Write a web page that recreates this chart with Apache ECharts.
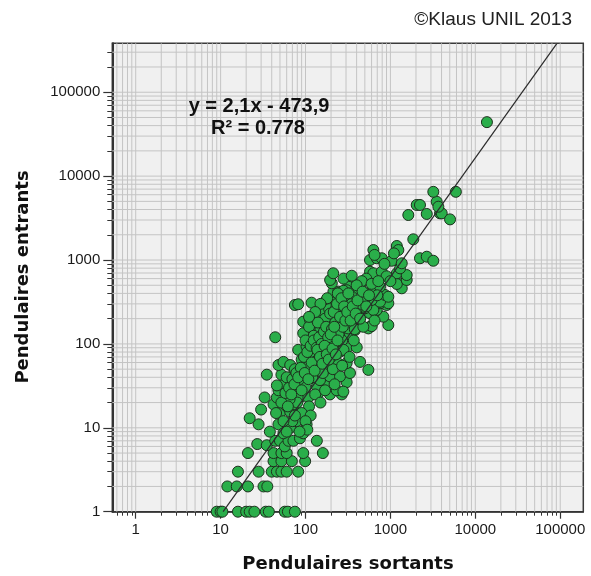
<!DOCTYPE html>
<html>
<head>
<meta charset="utf-8">
<script src="https://cdn.jsdelivr.net/npm/echarts@6/dist/echarts.min.js"></script>
<style>
html,body{margin:0;padding:0;background:#ffffff;}
#chart{width:591px;height:576px;}
</style>
</head>
<body>
<div id="chart"></div>
<script>
// Pendulaires sortants (x) for each commune
const sortants = [
  9,10,10.5,16,20,22,25,34,37,57,62,75,
  12,15.5,21,32,35.5,
  16,28,40,46,52,60,82,
  42,52,69,99,
  21,42,52,60,94,160,
  27,35,44,50,57,63,72,86,136,
  38,28,48,55,66,79,94,103,
  22,30,42,50,60,66,75,
  33,46,60,86,108,142,194,267,48,57,69,46,69,86,136,186,233,305,279,86,
  35,52,72,113,148,194,255,334,48,55,66,94,108,136,178,233,305,439,550,
  82,103,148,194,233,305,401,
  44,94,124,136,178,212,255,292,334,383,
  162,194,255,305,366,575,550,602,945,233,292,319,
  94,113,142,178,204,233,292,334,401,419,279,212,826,
  575,334,659,690,439,502,480,75,82,118,162,170,904,754,945,690,630,
  754,863,945,222,575,194,279,213,243,526,292,
  334,419,204,195,212,319,630,754,1240,1360,1190,1555,
  575,630,790,1190,1555,1300,
  575,690,790,1035,1360,2230,2680,3200,630,1190,1240,1860,
  1625,2680,3840,4020,5040,2040,2230,3510,3670,3200,5900,13700,
  178,243,305,439,602,
  120,160,200,250,130,170,220,270,110,150,
  190,240,280,350,160,190,260,300,120,160,
  210,270,100,130,170,220,150,110,90,115,
  80,100,105,65,70,85,115,140,180,230,
  380,400,450,500,350,420,260,300,200,170,
  230,250,140,125,100,90,75,60,55,60,
  75,110,160,200,280,330,370,380,480,650,
  700,520,460,400,280,240,180,150,130,110,
  280,350,900,1000,850,650,1100,
  45,52,58,64,70,78,88,96,105,115,
  125,135,145,155,165,175,185,195,205,215,
  225,235,245,255,265,275,285,295,310,320,
  340,360,390,410,440,470,520,560,600,720,
  62,68,74,82,90,98,108,118,128,138,
  148,158,168,178,188,198,208,218,228,238
];
// Pendulaires entrants (y), same order
const entrants = [
  1,1,1,1,1,1,1,1,1,1,1,1,
  2,2,2,2,2,
  3,3,3,3,3,3,3,
  4,4,4,4,
  5,5,5,5,5,5,
  6.4,6.2,7,7,6,7,7,7.5,7,
  9,11,11,8.6,10,12,8.6,11,
  13,16.5,19,15,18,15.6,19,
  23,23,23,23,23,26,25,25,28,34,32,32,28,31,31,32,28,35,27,35,
  43,43,43,41,37,41,41,45,56,61,56,61,49,56,53,61,59,61,49,
  85,93,93,97,85,89,91,
  120,134,146,117,122,134,140,122,128,146,
  160,168,168,160,176,160,153,163,168,160,176,153,
  184,193,215,202,221,211,221,211,202,202,221,211,211,
  232,232,242,254,254,266,277,291,297,310,305,318,291,305,305,305,254,
  318,383,365,334,334,349,349,419,419,401,358,
  490,504,528,578,695,481,481,481,528,460,518,578,
  725,695,725,695,662,796,
  1000,1050,1050,980,914,1050,1095,980,1315,1470,1315,1765,
  3440,3540,3600,3600,3050,4530,4530,4950,4320,6500,6500,44000,
  318,401,437,481,334,
  70,75,70,80,100,110,105,110,160,150,
  140,250,270,300,250,260,300,260,40,45,
  50,55,30,25,28,33,20,18,15,14,
  20,12,9.5,22,12,9,80,65,90,120,
  210,260,300,350,400,460,230,200,180,200,
  270,190,180,125,110,65,50,40,12,9,
  14,55,130,100,85,70,110,150,160,190,
  380,600,560,500,430,400,350,300,240,210,
  600,650,640,560,900,1150,1200,
  15,20,26,30,38,45,52,70,80,95,
  110,90,120,100,140,160,120,230,150,240,
  180,300,130,210,350,160,280,190,240,400,
  190,280,230,330,200,420,280,380,520,560,
  18,25,33,40,28,45,38,60,48,85,
  70,58,95,75,65,130,88,160,75,110
];
// Regression line drawn in the reference (two end points)
const fitX = [10.7, 92000];
const fitY = [1, 384000];
// Axis tick labels
const xTickLabels = [1, 10, 100, 1000, 10000, 100000];
const yTickLabels = [1, 10, 100, 1000, 10000, 100000];
const minorMultipliers = [2, 3, 4, 5, 6, 7, 8, 9];
const X_MIN = 0.53, X_MAX = 187000, Y_MIN = 1, Y_MAX = 383000;

const equationText = 'y = 2,1x - 473,9';
const r2Text = 'R² = 0.778';
const creditText = '©Klaus UNIL 2013';
const xTitle = 'Pendulaires sortants';
const yTitle = 'Pendulaires entrants';

function gridValues(min, max) {
  const out = [];
  for (let e = -1; e <= 6; e++) {
    const dec = Math.pow(10, e);
    [1].concat(minorMultipliers).forEach(m => {
      const v = +(m * dec).toPrecision(6);
      if (v >= min * 0.9999 && v <= max * 1.0001) out.push(v);
    });
  }
  return out;
}
const xAll = gridValues(X_MIN, X_MAX);
const yAll = gridValues(Y_MIN, Y_MAX);
const xMinor = xAll.filter(v => xTickLabels.indexOf(v) < 0);
const yMinor = yAll.filter(v => yTickLabels.indexOf(v) < 0);

const points = sortants.map((x, i) => [x, entrants[i]]);

const gridColor = '#c4c4c4';
const gridSeries = [];
xAll.forEach(v => gridSeries.push({
  type: 'line', silent: true, z: 1, symbol: 'none', animation: false,
  lineStyle: { color: gridColor, width: 1 }, data: [[v, Y_MIN], [v, Y_MAX]]
}));
yAll.filter(v => v > Y_MIN).forEach(v => gridSeries.push({
  type: 'line', silent: true, z: 1, symbol: 'none', animation: false,
  lineStyle: { color: gridColor, width: 1 }, data: [[X_MIN, v], [X_MAX, v]]
}));

const labelFont = { color: '#1a1a1a', fontSize: 15, fontFamily: '"Liberation Sans", Arial, sans-serif' };
const fmt = v => String(Math.round(v));

const chart = echarts.init(document.getElementById('chart'), null, { renderer: 'canvas' });
chart.setOption({
  animation: false,
  backgroundColor: '#ffffff',
  grid: {
    left: 112.3, top: 43.3, width: 471, height: 468.4,
    show: true, backgroundColor: '#f0f0f0', borderColor: '#3a3a3a', borderWidth: 1.5,
    containLabel: false
  },
  xAxis: [
    {
      type: 'log', logBase: 10, min: X_MIN, max: X_MAX, position: 'bottom', offset: 0,
      axisLine: { show: true, onZero: false, lineStyle: { color: '#333', width: 1.5 } },
      axisTick: { show: true, length: 7, customValues: xTickLabels, lineStyle: { color: '#333', width: 1.2 } },
      axisLabel: Object.assign({ show: true, customValues: xTickLabels, formatter: fmt, margin: 11, hideOverlap: false }, labelFont),
      splitLine: { show: false }, minorTick: { show: false }, minorSplitLine: { show: false }
    },
    {
      type: 'log', logBase: 10, min: X_MIN, max: X_MAX, position: 'bottom', offset: 0,
      axisLine: { show: false },
      axisTick: { show: true, length: 4, customValues: xMinor, lineStyle: { color: '#333', width: 1 } },
      axisLabel: { show: false },
      splitLine: { show: false }
    }
  ],
  yAxis: [
    {
      type: 'log', logBase: 10, min: Y_MIN, max: Y_MAX, position: 'left', offset: 0,
      axisLine: { show: true, onZero: false, lineStyle: { color: '#333', width: 2 } },
      axisTick: { show: true, length: 9, customValues: yTickLabels, lineStyle: { color: '#333', width: 1.2 } },
      axisLabel: Object.assign({ show: true, customValues: yTickLabels, formatter: fmt, margin: 12, hideOverlap: false }, labelFont),
      splitLine: { show: false }, minorTick: { show: false }, minorSplitLine: { show: false }
    },
    {
      type: 'log', logBase: 10, min: Y_MIN, max: Y_MAX, position: 'left', offset: 0,
      axisLine: { show: false },
      axisTick: { show: true, length: 5, customValues: yMinor, lineStyle: { color: '#333', width: 1 } },
      axisLabel: { show: false },
      splitLine: { show: false }
    }
  ],
  series: gridSeries.concat([
    {
      type: 'scatter', z: 3, clip: false, silent: true,
      symbol: 'circle', symbolSize: 11,
      itemStyle: { color: '#2aae4a', borderColor: '#1d301d', borderWidth: 1, opacity: 1 },
      data: points
    },
    {
      type: 'line', z: 4, silent: true, symbol: 'none', clip: true,
      lineStyle: { color: '#2b2b2b', width: 1.2 },
      data: fitX.map((x, i) => [x, fitY[i]])
    }
  ]),
  graphic: [
    { type: 'text', x: 572, y: 20, style: { text: creditText, fill: '#222', font: '19px "Liberation Sans", Arial, sans-serif', align: 'right', verticalAlign: 'middle' } },
    { type: 'text', x: 259, y: 106, z: 10, style: { text: equationText, fill: '#111', font: 'bold 20px "Liberation Sans", Arial, sans-serif', align: 'center', verticalAlign: 'middle' } },
    { type: 'text', x: 258, y: 128, z: 10, style: { text: r2Text, fill: '#111', font: 'bold 20px "Liberation Sans", Arial, sans-serif', align: 'center', verticalAlign: 'middle' } },
    { type: 'text', x: 348, y: 564, style: { text: xTitle, fill: '#111', font: 'bold 18px "DejaVu Sans", sans-serif', align: 'center', verticalAlign: 'middle' } },
    { type: 'text', x: 23, y: 277, rotation: Math.PI / 2, style: { text: yTitle, fill: '#111', font: 'bold 18px "DejaVu Sans", sans-serif', align: 'center', verticalAlign: 'middle' } }
  ]
});
</script>
</body>
</html>
